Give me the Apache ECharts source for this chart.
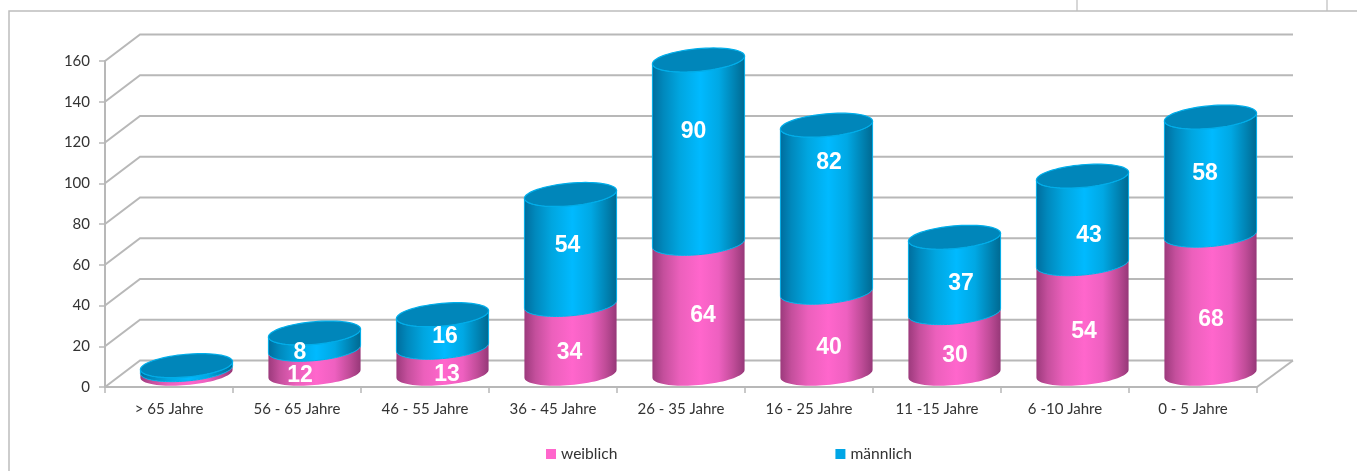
<!DOCTYPE html>
<html><head><meta charset="utf-8">
<style>html,body{margin:0;padding:0;background:#fff}#c{width:1357px;height:471px}</style>
<script src="https://cdn.jsdelivr.net/npm/echarts@6/dist/echarts.min.js"></script>
</head><body><div id="c"></div>
<script>
const categories = ['> 65 Jahre','56 - 65 Jahre','46 - 55 Jahre','36 - 45 Jahre','26 - 35 Jahre','16 - 25 Jahre','11 -15 Jahre','6 -10 Jahre','0 - 5 Jahre'];
const weiblich = [2,12,13,34,64,40,30,54,68];
const maennlich = [2,8,16,54,90,82,37,43,58];
const yTicks = [0,20,40,60,80,100,120,140,160];
const hideLabelBelow = 5;
// hand-placed label offsets of the reference, in pixels
const nudgeW = [[0,0],[-14.5,14],[4.5,14],[-1,14],[4.5,7],[2.5,15],[0.5,12],[1.5,12.5],[0.5,15]];
const nudgeM = [[0,0],[-14.5,12],[2.5,6],[-3,-4],[-5,-20],[2.5,-46],[6.5,9],[6.5,16],[-5.5,-2]];

const DEPTH_X = 35, DEPTH_Y = -26.5;
const chart = echarts.init(document.getElementById('c'), null, {renderer:'canvas'});
const grey = '#b8b8b8';
const grad = s => new echarts.graphic.LinearGradient(0,0,1,0,s.map((c,i)=>({offset:c[0],color:c[1]})));
const pinkStops = [[0,'#9c3a7c'],[0.12,'#c44f9c'],[0.3,'#ec60bc'],[0.52,'#ff66cc'],[0.72,'#ee60c0'],[0.88,'#c04c98'],[1,'#963878']];
const blueStops = [[0,'#006c9c'],[0.12,'#0088bc'],[0.3,'#00a6e0'],[0.52,'#00baff'],[0.72,'#00a8e4'],[0.88,'#0084b4'],[1,'#006890']];

function ellipseArc(cx, cy, hw, t1, t2, n){
  const vx = 15, vy = -12, ux = Math.sqrt(hw*hw - vx*vx), pts = [];
  for(let k=0;k<=n;k++){
    const t = t1 + (t2-t1)*k/n;
    pts.push([cx + ux*Math.cos(t) + vx*Math.sin(t), cy + vy*Math.sin(t)]);
  }
  return pts;
}
function cylinderRenderer(stops, nudges, stroke, topCap){
  return function(params, api){
    const i = api.value(0), base = api.value(1), top = api.value(2), val = api.value(3);
    const hw = api.size([1,0])[0]*0.36;
    const pb = api.coord([i,base]), pt = api.coord([i,top]);
    const cx = pb[0] + DEPTH_X/2, yb = pb[1] + DEPTH_Y/2, yt = pt[1] + DEPTH_Y/2;
    const t0 = Math.atan2(15, Math.sqrt(hw*hw-225));
    const front = (y)=>ellipseArc(cx,y,hw,t0+Math.PI,t0+2*Math.PI,40);
    const body = front(yt).concat(front(yb).reverse());
    const children = [{type:'polygon',shape:{points:body},style:{fill:grad(stops),stroke:stroke,lineWidth:stroke?1:0}}];
    if(topCap){
      children.push({type:'polygon',shape:{points:ellipseArc(cx,yt,hw,0,2*Math.PI,72)},style:{fill:'#0086ba',stroke:'#00aeea',lineWidth:1.2}});
    }
    if(val >= hideLabelBelow){
      const ym = api.coord([i,(base+top)/2])[1] + DEPTH_Y/2;
      children.push({type:'text',z2:10,style:{text:String(val),x:cx+nudges[i][0],y:ym+nudges[i][1],align:'center',verticalAlign:'middle',
        fill:'#fff',font:'bold 23px "Liberation Sans", Arial, sans-serif'}});
    }
    return {type:'group',children};
  };
}
const wData = weiblich.map((v,i)=>[i,0,v,v]);
const mData = maennlich.map((v,i)=>[i,weiblich[i],weiblich[i]+v,v]);

const frame = '#bdbdbd';
chart.setOption({
  animation:false,
  backgroundColor:'#fff',
  textStyle:{fontFamily:'Lato, "Open Sans", sans-serif'},
  graphic:[
    {type:'polyline',silent:true,shape:{points:[[9,471],[9,11],[1357,11]]},style:{stroke:frame,lineWidth:1.5,fill:null}},
    {type:'line',silent:true,shape:{x1:1077,y1:0,x2:1077,y2:11},style:{stroke:frame,lineWidth:1.2}},
    {type:'line',silent:true,shape:{x1:1327,y1:0,x2:1327,y2:11},style:{stroke:frame,lineWidth:1.2}}
  ],
  grid:{left:105,right:100,top:61,bottom:84,containLabel:false},
  legend:{left:541,top:441,itemWidth:10,itemHeight:10,itemGap:218,icon:'rect',
    data:['weiblich','männlich'],
    textStyle:{fontSize:15.6,color:'#333',fontFamily:'Lato, "Open Sans", sans-serif'}},
  xAxis:{type:'category',data:categories,
    axisLine:{lineStyle:{color:grey,width:2}},
    axisTick:{show:true,alignWithLabel:false,length:6,lineStyle:{color:grey,width:1.5}},
    axisLabel:{fontSize:15,color:'#333',margin:15,interval:0}},
  yAxis:{type:'value',min:0,max:160,interval:20,
    axisLine:{show:true,lineStyle:{color:grey,width:2}},
    axisTick:{show:true,length:6,lineStyle:{color:grey,width:1.5}},
    axisLabel:{fontSize:15,color:'#333',margin:15,padding:[3,0,0,0]},
    splitLine:{show:false}},
  series:[
    {type:'custom',silent:true,z:1,clip:false,data:yTicks.map(v=>[0,v]),encode:{x:0,y:1},
     renderItem(params,api){
       const cs = params.coordSys, y = api.coord([0,api.value(1)])[1];
       const x0 = cs.x, x1 = cs.x+cs.width;
       const kids = [{type:'polyline',shape:{points:[[x0,y],[x0+DEPTH_X,y+DEPTH_Y],[x1+DEPTH_X+1,y+DEPTH_Y]]},style:{stroke:grey,lineWidth:2,fill:null}}];
       if(api.value(1)===0) kids.push({type:'line',shape:{x1:x1,y1:y,x2:x1+DEPTH_X+1,y2:y+DEPTH_Y},style:{stroke:grey,lineWidth:2}});
       return {type:'group',children:kids};
     }},
    {name:'weiblich',type:'custom',z:3,clip:false,itemStyle:{color:'#ff66cc'},data:wData,encode:{x:0,y:[1,2]},dimensions:['c','b','t','v'],
     renderItem:cylinderRenderer(pinkStops,nudgeW,null,false)},
    {name:'männlich',type:'custom',z:4,clip:false,itemStyle:{color:'#00a6e6'},data:mData,encode:{x:0,y:[1,2]},dimensions:['c','b','t','v'],
     renderItem:cylinderRenderer(blueStops,nudgeM,'#00aeea',true)}
  ]
});
</script></body></html>
